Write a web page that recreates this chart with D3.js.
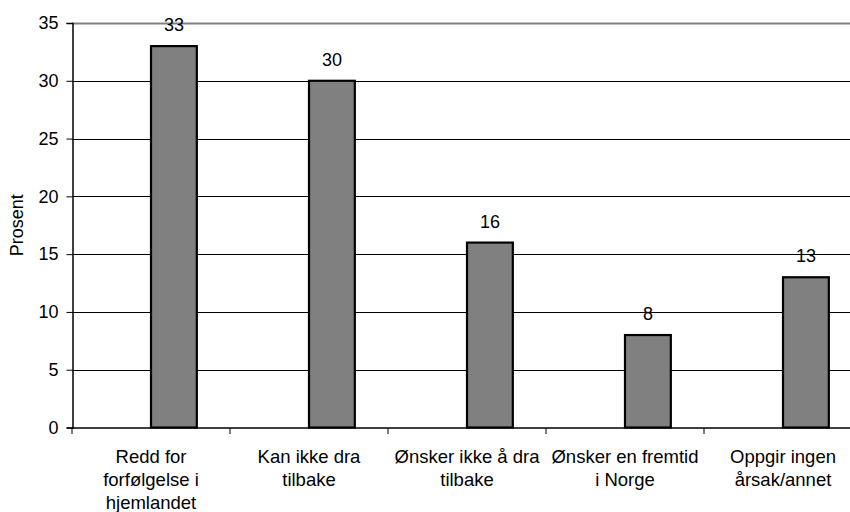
<!DOCTYPE html>
<html>
<head>
<meta charset="utf-8">
<script src="https://cdn.jsdelivr.net/npm/d3@7/dist/d3.min.js"></script>
<style>
  html, body { margin: 0; padding: 0; background: #fff; }
  svg { display: block; font-family: Arial, "Liberation Sans", sans-serif; }
</style>
</head>
<body>
<svg id="chart" width="850" height="512"></svg>
<script>
// Reasons given, share of respondents (percent)
const categories = [
  ["Redd for", "forfølgelse i", "hjemlandet"],
  ["Kan ikke dra", "tilbake"],
  ["Ønsker ikke å dra", "tilbake"],
  ["Ønsker en fremtid", "i Norge"],
  ["Oppgir ingen", "årsak/annet"]
];
const values = [33, 30, 16, 8, 13];
const yTicks = [0, 5, 10, 15, 20, 25, 30, 35];
const yTitle = "Prosent";

const svg = d3.select("#chart");
const plotLeft = 72, plotRight = 862, plotTop = 23, plotBottom = 427.5;

const keys = categories.map(c => c.join(" "));
const x = d3.scaleBand().domain(keys).range([plotLeft, plotRight]).padding(0);
const y = d3.scaleLinear().domain([0, 35]).range([plotBottom, plotTop]);

// horizontal gridlines
svg.append("g").selectAll("line")
  .data(yTicks.filter(t => t > 0))
  .join("line")
  .attr("x1", plotLeft).attr("x2", 850)
  .attr("y1", d => Math.round(y(d)) + 0.5).attr("y2", d => Math.round(y(d)) + 0.5)
  .attr("stroke", d => d === 35 ? "#808080" : "#000")
  .attr("stroke-width", d => d === 35 ? 2 : 1);

// bars sit in the right half of each category slot
const barW = x.bandwidth() * 0.29;
const bx = d => x(d) + x.bandwidth() / 2;
svg.append("g").selectAll("rect")
  .data(values.map((v, i) => ({ k: keys[i], v })))
  .join("rect")
  .attr("x", d => bx(d.k))
  .attr("y", d => y(d.v))
  .attr("width", barW)
  .attr("height", d => y(0) - y(d.v))
  .attr("fill", "#808080")
  .attr("stroke", "#000")
  .attr("stroke-width", 2.2);

// value labels
svg.append("g").selectAll("text")
  .data(values.map((v, i) => ({ k: keys[i], v })))
  .join("text")
  .attr("x", d => bx(d.k) + barW / 2)
  .attr("y", d => y(d.v) - 15)
  .attr("text-anchor", "middle")
  .attr("font-size", 18)
  .attr("fill", "#000")
  .text(d => d.v);

// y axis
const yAxis = svg.append("g")
  .attr("transform", `translate(${plotLeft + 0.5},0)`)
  .call(d3.axisLeft(y).tickValues(yTicks).tickSize(6).tickPadding(8).tickFormat(d3.format("d")));
yAxis.select(".domain").attr("stroke", "#000").attr("stroke-width", 1.5);
yAxis.selectAll(".tick line").attr("stroke", "#000");
yAxis.selectAll(".tick text").attr("font-size", 18).attr("fill", "#000")
  .attr("font-family", "Arial, 'Liberation Sans', sans-serif");

// x axis
const xAxis = svg.append("g")
  .attr("transform", `translate(0,${plotBottom + 0.5})`);
xAxis.append("line")
  .attr("x1", plotLeft).attr("x2", 850)
  .attr("stroke", "#000").attr("stroke-width", 1.5);
xAxis.selectAll("line.tick")
  .data(keys.map(k => x(k)).concat([plotRight]))
  .join("line")
  .attr("class", "tick")
  .attr("x1", d => d).attr("x2", d => d)
  .attr("y1", 0).attr("y2", 6)
  .attr("stroke", "#000");

const labels = xAxis.selectAll("text")
  .data(categories.map((lines, i) => ({ lines, k: keys[i] })))
  .join("text")
  .attr("text-anchor", "middle")
  .attr("font-size", 18.5)
  .attr("fill", "#000");
labels.selectAll("tspan")
  .data(d => d.lines.map((l, j) => ({ l, j, cx: x(d.k) + x.bandwidth() / 2 })))
  .join("tspan")
  .attr("x", d => d.cx)
  .attr("y", d => 35 + d.j * 22.8)
  .text(d => d.l);

// y axis title
svg.append("text")
  .attr("transform", `translate(23,${(plotTop + plotBottom) / 2}) rotate(-90)`)
  .attr("text-anchor", "middle")
  .attr("font-size", 18)
  .attr("fill", "#000")
  .text(yTitle);
</script>
</body>
</html>
